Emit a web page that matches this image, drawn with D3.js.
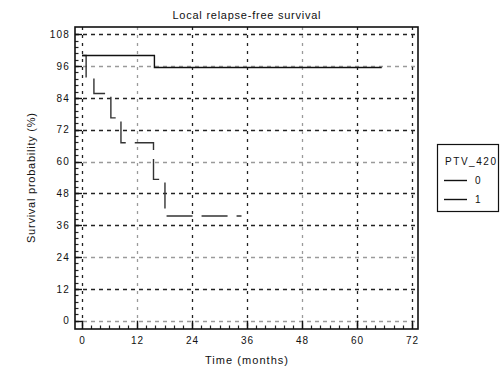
<!DOCTYPE html>
<html>
<head>
<meta charset="utf-8">
<script src="https://cdn.jsdelivr.net/npm/d3@7"></script>
<style>
  html, body { margin: 0; padding: 0; background: #fff; }
  svg text { font-family: "Liberation Sans", Arial, sans-serif; fill: #111; }
</style>
</head>
<body>
<svg id="chart" width="501" height="369"></svg>
<script>
// ---- data ----
const chartTitle = "Local relapse-free survival";
const xLabel = "Time (months)";
const yLabel = "Survival probability (%)";
const legendTitle = "PTV_420";
const groupNames = ["0", "1"];
const xTicks = [0, 12, 24, 36, 48, 60, 72];
const yTicks = [0, 12, 24, 36, 48, 60, 72, 84, 96, 108];
// group 0 step curve (time in months, survival %)
const times0 = [0, 15.8, 65.4];
const surv0  = [100, 95.5, 95.5];
// group 1 step curve
const times1 = [0, 0.9, 2.6, 6.3, 8.5, 15.6, 18.1, 34.8];
const surv1  = [100, 92.0, 85.7, 76.5, 67.1, 53.3, 39.5, 39.5];

// ---- layout ----
const svg = d3.select("#chart");
const frame = { left: 75, right: 418, top: 27, bottom: 329 };
const x = d3.scaleLinear().domain([0, 72]).range([82, 412]);
const y = d3.scaleLinear().domain([0, 108]).range([320.7, 34.3]);

// grid (alternate shades as in the reference image)
const hShade = { 0: "#9a9a9a", 12: "#222", 24: "#9a9a9a", 36: "#222", 48: "#222", 60: "#9a9a9a", 72: "#222", 84: "#222", 96: "#9a9a9a", 108: "#222" };
const vShade = { 0: "#222", 12: "#9a9a9a", 24: "#222", 36: "#222", 48: "#9a9a9a", 60: "#222", 72: "#222" };

const grid = svg.append("g");
grid.selectAll("line.h").data(yTicks).join("line")
  .attr("x1", frame.left).attr("x2", frame.right)
  .attr("y1", d => Math.round(y(d)) + 0.5).attr("y2", d => Math.round(y(d)) + 0.5)
  .attr("stroke", d => hShade[d]).attr("stroke-width", 1.3)
  .attr("stroke-dasharray", "4,4");
grid.selectAll("line.v").data(xTicks).join("line")
  .attr("y1", frame.top).attr("y2", frame.bottom)
  .attr("x1", d => Math.round(x(d)) + 0.5).attr("x2", d => Math.round(x(d)) + 0.5)
  .attr("stroke", d => vShade[d]).attr("stroke-width", 1.3)
  .attr("stroke-dasharray", "3,5");

// minor ticks
const yMinor = d3.range(0, 108.01, 2.4);
svg.append("g").selectAll("line").data(yMinor).join("line")
  .attr("x1", frame.left).attr("x2", frame.left + 3.5)
  .attr("y1", d => Math.round(y(d)) + 0.5).attr("y2", d => Math.round(y(d)) + 0.5)
  .attr("stroke", "#222").attr("stroke-width", 1.2);
svg.append("g").selectAll("line").data(yTicks).join("line")
  .attr("x1", frame.left).attr("x2", x(0))
  .attr("y1", d => Math.round(y(d)) + 0.5).attr("y2", d => Math.round(y(d)) + 0.5)
  .attr("stroke", "#111").attr("stroke-width", 1.4);
const xMinor = d3.range(0, 72.01, 2);
svg.append("g").selectAll("line").data(xMinor).join("line")
  .attr("y1", frame.bottom).attr("y2", frame.bottom - 3.5)
  .attr("x1", d => Math.round(x(d)) + 0.5).attr("x2", d => Math.round(x(d)) + 0.5)
  .attr("stroke", "#222").attr("stroke-width", 1.2);
svg.append("g").selectAll("line").data(xTicks).join("line")
  .attr("y1", frame.bottom).attr("y2", y(0))
  .attr("x1", d => Math.round(x(d)) + 0.5).attr("x2", d => Math.round(x(d)) + 0.5)
  .attr("stroke", "#111").attr("stroke-width", 1.4);

// curves
const line = d3.line().x(d => x(d[0])).y(d => y(d[1])).curve(d3.curveStepAfter);
const pts0 = times0.map((t, i) => [t, surv0[i]]);
const pts1 = times1.map((t, i) => [t, surv1[i]]);
svg.append("path").datum(pts1).attr("d", line)
  .attr("fill", "none").attr("stroke", "#333").attr("stroke-width", 1.4)
  .attr("stroke-dasharray", "26,9");
svg.append("path").datum(pts0).attr("d", line)
  .attr("fill", "none").attr("stroke", "#111").attr("stroke-width", 1.4);

// frame
svg.append("rect")
  .attr("x", frame.left).attr("y", frame.top)
  .attr("width", frame.right - frame.left).attr("height", frame.bottom - frame.top)
  .attr("fill", "none").attr("stroke", "#111").attr("stroke-width", 1.6);

// axes labels
const yAxis = d3.axisLeft(y).tickValues(yTicks).tickSize(0).tickPadding(5).tickFormat(d3.format("d"));
const gy = svg.append("g").attr("transform", `translate(${frame.left},0)`).call(yAxis);
gy.select(".domain").remove();
gy.selectAll("text").style("font-size", "10px").attr("letter-spacing", "1.2").attr("fill", "#111");

const xAxis = d3.axisBottom(x).tickValues(xTicks).tickSize(0).tickPadding(8).tickFormat(d3.format("d"));
const gx = svg.append("g").attr("transform", `translate(0,${frame.bottom})`).call(xAxis);
gx.select(".domain").remove();
gx.selectAll("text").style("font-size", "10px").attr("letter-spacing", "1").attr("fill", "#111");

// titles
const cx = (frame.left + frame.right) / 2;
svg.append("text").attr("x", cx).attr("y", 19).attr("text-anchor", "middle")
  .style("font-size", "11px").attr("textLength", 148).attr("lengthAdjust", "spacing")
  .text(chartTitle);
svg.append("text").attr("x", cx).attr("y", 364).attr("text-anchor", "middle")
  .style("font-size", "11px").attr("textLength", 83).attr("lengthAdjust", "spacing")
  .text(xLabel);
svg.append("text").attr("transform", `translate(35,${(frame.top + frame.bottom) / 2}) rotate(-90)`)
  .attr("text-anchor", "middle").style("font-size", "11px")
  .attr("textLength", 130).attr("lengthAdjust", "spacing")
  .text(yLabel);

// legend
const lg = svg.append("g");
lg.append("rect").attr("x", 437.5).attr("y", 144.5).attr("width", 61).attr("height", 67)
  .attr("fill", "#fff").attr("stroke", "#111").attr("stroke-width", 1.2);
lg.append("text").attr("x", 445).attr("y", 165).style("font-size", "10px")
  .attr("textLength", 51).attr("lengthAdjust", "spacing").text(legendTitle);
const legY = d3.scalePoint().domain(groupNames).range([180.5, 199.5]);
groupNames.forEach(g => {
  lg.append("line").attr("x1", 444).attr("x2", 467)
    .attr("y1", legY(g)).attr("y2", legY(g))
    .attr("stroke", "#111").attr("stroke-width", 1.4);
  lg.append("text").attr("x", 475).attr("y", legY(g) + 3.5).style("font-size", "10px").text(g);
});
</script>
</body>
</html>
